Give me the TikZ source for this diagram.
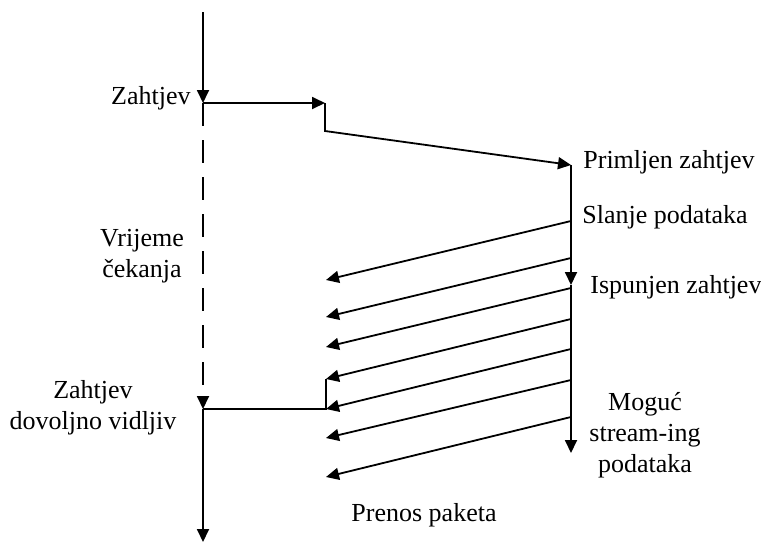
\documentclass[tikz,border=0pt]{standalone}
\usepackage{fontspec}
\setmainfont{Liberation Serif}
\usetikzlibrary{arrows.meta,positioning}

\begin{document}
\begin{tikzpicture}[x=0.5pt, y=-0.5pt,
        lbl/.style={inner sep=0pt, align=center, font=\fontsize{13}{15.5}\selectfont},
        ln/.style={line width=0.9pt},
        arr/.style={line width=0.9pt, -{Triangle[length=6.5pt,width=6pt]}},
        wait/.style={line width=0.9pt, dash pattern=on 11.5pt off 7pt}]
    \useasboundingbox (0,0) rectangle (761,543);

    % client time line
    \coordinate (l0) at (203,12);
    \coordinate (l1) at (203,103);
    \coordinate (l2) at (203,409);
    \coordinate (l3) at (203,542);
    % server time line
    \coordinate (r1) at (571,165);
    \coordinate (r2) at (571,285);
    \coordinate (r3) at (571,453);
    % request path
    \coordinate (s1) at (325,103);
    \coordinate (s2) at (325,131);
    \coordinate (k1) at (326,409);
    \coordinate (k2) at (326,379);

    \node[lbl, anchor=east] (zah) at (191,98) {Zahtjev};
    \node[lbl] (vri) at (142,256) {Vrijeme\\čekanja};
    \node[lbl] (dov) at (93,408) {Zahtjev\\dovoljno vidljiv};
    \node[lbl, anchor=west] (pri) at (583,162) {Primljen zahtjev};
    \node[lbl, anchor=west] (sla) at (582,217) {Slanje podataka};
    \node[lbl, anchor=west] (isp) at (590,287) {Ispunjen zahtjev};
    \node[lbl] (mog) at (645,435) {Moguć\\stream-ing\\podataka};
    \node[lbl] (pre) at (424,515) {Prenos paketa};

    \draw
    (l0) edge[arr] (l1)
    (l1) edge[wait, -{Triangle[length=6.5pt,width=6pt]}] (l2)
    (l2) edge[arr] (l3)
    (l1) edge[arr] (s1)
    (r1) edge[arr] (r2)
    (r2) edge[arr] (r3);
    \draw[arr] (s1) -- (s2) -- (r1);
    \draw[ln] (l2) -- (k1) -- (k2);

    % packets
    \foreach \ys/\ye [count=\i] in {221/280, 258/317, 288/347, 319/379, 349/409, 380/438, 417/477} {
        \coordinate (p\i) at (571,\ys);
        \coordinate (q\i) at (326,\ye);
        \draw[arr] (p\i) -- (q\i);
    }
\end{tikzpicture}
\end{document}
